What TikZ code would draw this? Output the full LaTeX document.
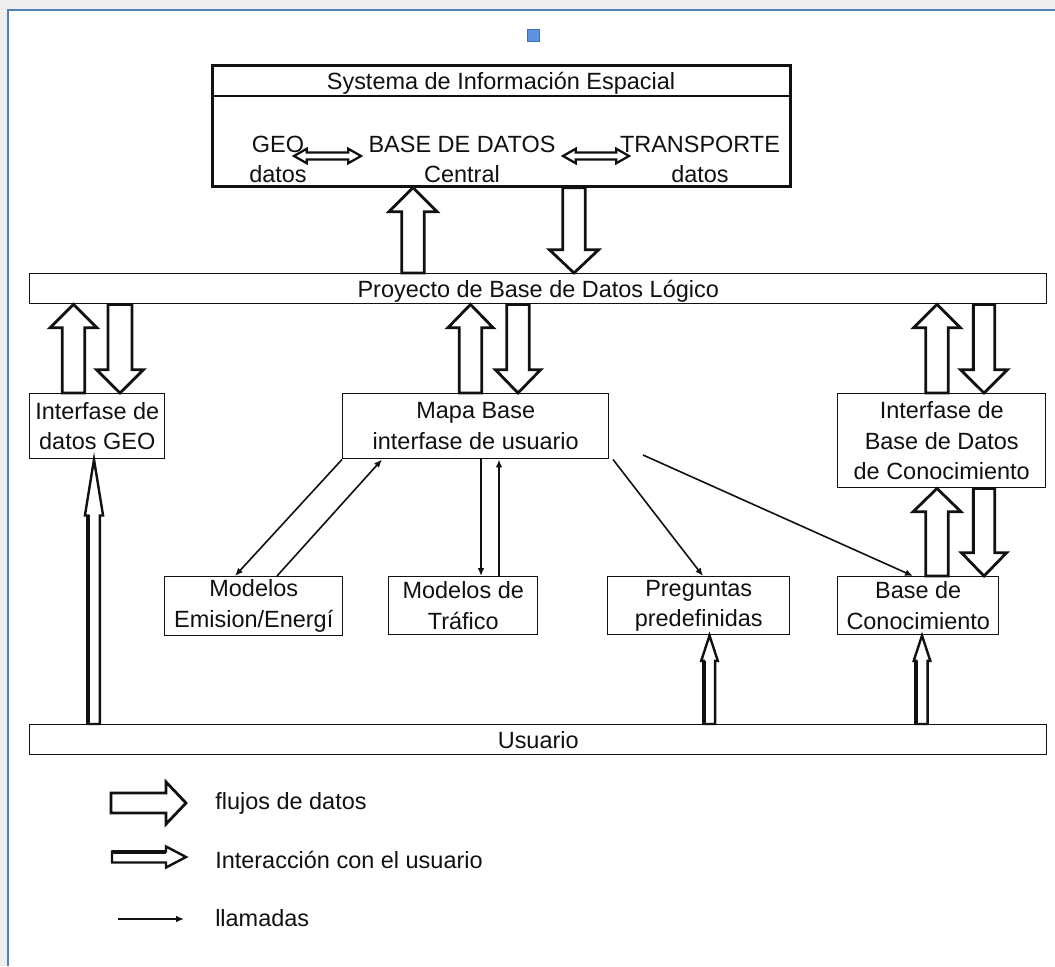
\documentclass[tikz,border=0pt]{standalone}
\usepackage{fontspec}
\setmainfont{Liberation Sans}
\usetikzlibrary{calc,arrows.meta}

\definecolor{pagegray}{HTML}{EFEFEF}
\definecolor{frameblue}{HTML}{4F81BD}
\definecolor{markfill}{HTML}{5F93E0}
\definecolor{markedge}{HTML}{3F6FB5}
\definecolor{ink}{HTML}{111111}

\newcommand\boxfont{\fontsize{17.6}{23}\selectfont}
\newcommand\siefont{\fontsize{17.6}{22.5}\selectfont}

% hollow block arrow: [style]{tail}{tip}{half shaft}{half head}{head length}
\newcommand\hollowarrow[6][]{%
  \path (#2) coordinate (ha-a) (#3) coordinate (ha-b);
  \path ($(ha-b)!#6!(ha-a)$) coordinate (ha-n);
  \draw[#1] ($(ha-a)!#4!90:(ha-b)$) -- ($(ha-n)!#4!90:(ha-b)$)
    -- ($(ha-n)!#5!90:(ha-b)$) -- (ha-b)
    -- ($(ha-n)!#5!-90:(ha-b)$) -- ($(ha-n)!#4!-90:(ha-b)$)
    -- ($(ha-a)!#4!-90:(ha-b)$) -- cycle;
}
% user interaction arrow: narrow hollow arrow with a heavy left rail
\newcommand\userarrow[5]{%
  \hollowarrow[userline]{#1}{#2}{#3}{#4}{#5}
  \draw[line width=3pt, line cap=butt, ink]
    ($(ha-a)!#3!90:(ha-b)$) -- ($(ha-n)!#3!90:(ha-b)$);
}
% hollow double-headed arrow: [style]{end a}{end b}{half shaft}{half head}{head length}
\newcommand\hollowdouble[6][]{%
  \path (#2) coordinate (hd-a) (#3) coordinate (hd-b);
  \path ($(hd-a)!#6!(hd-b)$) coordinate (hd-m) ($(hd-b)!#6!(hd-a)$) coordinate (hd-n);
  \draw[#1] (hd-a) -- ($(hd-m)!#5!90:(hd-b)$) -- ($(hd-m)!#4!90:(hd-b)$)
    -- ($(hd-n)!#4!90:(hd-b)$) -- ($(hd-n)!#5!90:(hd-b)$) -- (hd-b)
    -- ($(hd-n)!#5!-90:(hd-b)$) -- ($(hd-n)!#4!-90:(hd-b)$)
    -- ($(hd-m)!#4!-90:(hd-b)$) -- ($(hd-m)!#5!-90:(hd-b)$) -- cycle;
}

\tikzset{
  size/.style 2 args={minimum width=#1*0.75pt, minimum height=#2*0.75pt},
  box/.style={draw=ink, line width=1.1pt, fill=white, align=center,
    inner sep=0pt, anchor=north west, text=ink, font=\boxfont},
  label/.style={align=center, inner sep=0pt, text=ink, font=\siefont},
  legendtext/.style={anchor=west, inner sep=0pt, text=ink, font=\boxfont},
  flowline/.style={draw=ink, line width=2.1pt, fill=white, line join=miter},
  userline/.style={draw=ink, line width=1.8pt, fill=white, line join=miter},
  pairline/.style={draw=ink, line width=1.7pt, fill=white, line join=miter},
  linkline/.style={draw=ink, line width=1.2pt, -{Latex[length=6pt,width=5pt]}},
}

\begin{document}
\begin{tikzpicture}[x=0.75pt, y=-0.75pt]
\useasboundingbox (0,0) rectangle (1055,966);

% page and frame
\fill[pagegray] (0,0) rectangle (1055,966);
\fill[white] (8,10) rectangle (1055,966);
\draw[frameblue, line width=1.5pt] (8,966) -- (8,10) -- (1055,10);
\filldraw[draw=markedge, fill=markfill, line width=0.6pt] (527,29) rectangle (539,41);

% spatial information system
\node[box, size={578}{121}, line width=2pt] (sie) at (211,64) {};
\path (sie.north west) ++(0,32) coordinate (sie-tl);
\draw[ink, line width=1.5pt] (sie-tl) -- (sie-tl -| sie.east);
\node[label] (siet) at (501,83) {Systema de Información Espacial};
\node[label] (geot) at (278,159) {GEO\\datos};
\node[label] (bdt) at (462,159) {BASE DE DATOS\\Central};
\node[label] (trt) at (700,159) {TRANSPORTE\\datos};
\coordinate (dga) at (294,156);
\coordinate (dgb) at (361,156);
\coordinate (dta) at (563,156);
\coordinate (dtb) at (629,156);
\hollowdouble[pairline]{dga}{dgb}{2.6pt}{5.4pt}{9.5pt}
\hollowdouble[pairline]{dta}{dtb}{2.6pt}{5.4pt}{9.5pt}

% bars and boxes
\node[box, size={1017}{30}, text depth=0pt] (proy) at (29,273) {Proyecto de Base de Datos Lógico};
\node[box, size={135}{65}] (igeo) at (29,393) {Interfase de\\datos GEO};
\node[box, size={266}{65}] (mapa) at (342,393) {Mapa Base\\interfase de usuario};
\node[box, size={208}{94}] (ibdc) at (837,393) {Interfase de\\Base de Datos\\de Conocimiento};
\node[box, size={178}{59}] (modem) at (164,576) {Modelos\\Emision/Energí};
\node[box, size={149}{58}] (traf) at (388,576) {Modelos de\\Tráfico};
\node[box, size={182}{58}] (preg) at (607,576) {Preguntas\\predefinidas};
\node[box, size={161}{58}] (bcon) at (837,576) {Base de\\Conocimiento};
\node[box, size={1017}{30}] (usr) at (29,724) {Usuario};

% data flows
\hollowarrow[flowline]{413,0 |- proy.north}{413,0 |- sie.south}{8.4pt}{18pt}{18pt}
\hollowarrow[flowline]{574,0 |- sie.south}{574,0 |- proy.north}{8.4pt}{18.5pt}{17.5pt}
\hollowarrow[flowline]{73.5,0 |- igeo.north}{73.5,0 |- proy.south}{8.4pt}{17.6pt}{17.5pt}
\hollowarrow[flowline]{120,0 |- proy.south}{120,0 |- igeo.north}{9pt}{17.6pt}{17.5pt}
\hollowarrow[flowline]{470.5,0 |- mapa.north}{470.5,0 |- proy.south}{8.4pt}{17pt}{17.5pt}
\hollowarrow[flowline]{518,0 |- proy.south}{518,0 |- mapa.north}{8.4pt}{17pt}{17.5pt}
\hollowarrow[flowline]{937,0 |- ibdc.north}{937,0 |- proy.south}{8.4pt}{17.6pt}{17.5pt}
\hollowarrow[flowline]{984,0 |- proy.south}{984,0 |- ibdc.north}{8pt}{17.6pt}{17.5pt}
\hollowarrow[flowline]{937,0 |- bcon.north}{937,0 |- ibdc.south}{8.4pt}{18pt}{17.5pt}
\hollowarrow[flowline]{984,0 |- ibdc.south}{984,0 |- bcon.north}{8pt}{17pt}{17.5pt}

% user interaction
\userarrow{94,0 |- usr.north}{94,0 |- igeo.south}{4.4pt}{6.8pt}{42pt}
\userarrow{709.5,0 |- usr.north}{709.5,0 |- preg.south}{4.2pt}{6.2pt}{19pt}
\userarrow{922,0 |- usr.north}{922,0 |- bcon.south}{4.2pt}{6.2pt}{19pt}

% calls
\coordinate (kstart) at (643,455);
\draw[linkline] (mapa.south west) -- (235,0 |- modem.north);
\draw[linkline] (277,0 |- modem.north) -- (382,0 |- mapa.south);
\draw[linkline, line width=1.9pt] (481,0 |- mapa.south) -- (481,0 |- traf.north);
\draw[linkline] (499,0 |- traf.north) -- (499,0 |- mapa.south);
\draw[linkline] (613,0 |- mapa.south) -- (703,0 |- preg.north);
\draw[linkline] (kstart) -- (913,0 |- bcon.north);

% legend
\coordinate (lfa) at (111,803);
\coordinate (lfb) at (186,803);
\coordinate (lua) at (112,857);
\coordinate (lub) at (186,857);
\coordinate (lca) at (118,919);
\coordinate (lcb) at (184,919);
\hollowarrow[flowline]{lfa}{lfb}{7.5pt}{15.8pt}{15pt}
\userarrow{lua}{lub}{4.1pt}{7.9pt}{15pt}
\draw[linkline, line width=1.7pt] (lca) -- (lcb);
\node[legendtext] (lt1) at (215,803) {flujos de datos};
\node[legendtext] (lt2) at (215,860) {Interacción con el usuario};
\node[legendtext] (lt3) at (215,918) {llamadas};
\end{tikzpicture}
\end{document}
